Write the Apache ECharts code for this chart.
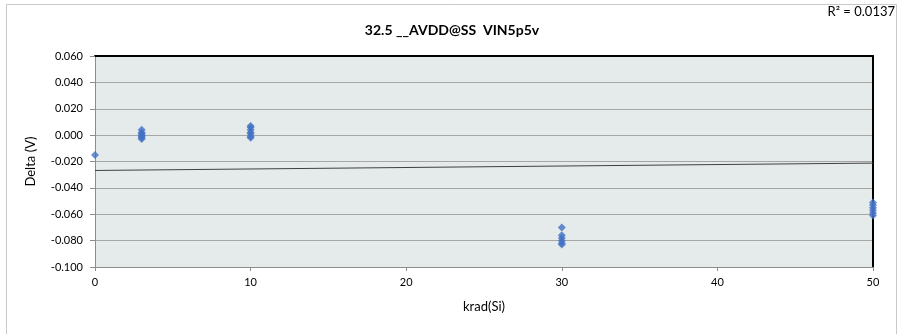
<!DOCTYPE html>
<html>
<head>
<meta charset="utf-8">
<script src="https://cdn.jsdelivr.net/npm/echarts@6/dist/echarts.min.js"></script>
<style>
html,body{margin:0;padding:0;background:#fff;}
#c{width:899px;height:334px;}
</style>
</head>
<body>
<div id="c"></div>
<script>
var titleText = '32.5 __AVDD@SS  VIN5p5v';
var r2Text = 'R² = 0.0137';
var xName = 'krad(Si)';
var yName = 'Delta (V)';
var doseX = [0, 3, 3, 3, 3, 3, 3, 3, 10, 10, 10, 10, 10, 10, 10, 30, 30, 30, 30, 30, 30, 50, 50, 50, 50, 50, 50];
var deltaY = [-0.015, 0.004, 0.002, 0.001, 0.000, -0.001, -0.002, -0.003,
  0.007, 0.006, 0.004, 0.002, 0.001, -0.001, -0.002,
  -0.070, -0.076, -0.078, -0.080, -0.082, -0.083,
  -0.051, -0.053, -0.055, -0.057, -0.059, -0.061];
var trendX = [0, 50];
var trendY = [-0.0268, -0.0212];
var yTicks = [-0.1, 0.06, 0.02];
var xTicks = [0, 50, 10];

var pts = doseX.map(function(x, i){ return [x, deltaY[i]]; });
var trend = trendX.map(function(x, i){ return [x, trendY[i]]; });
var font = 'Lato, "Liberation Sans", sans-serif';

var chart = echarts.init(document.getElementById('c'));
chart.setOption({
  animation: false,
  backgroundColor: '#fff',
  title: {
    text: titleText, left: 447, top: 18, textAlign: 'center',
    textStyle: {fontFamily: font, fontSize: 14, fontWeight: 'bold', color: '#000'}
  },
  graphic: [
    {type: 'rect', shape: {x: 6.5, y: 4.5, width: 890, height: 340}, style: {fill: 'none', stroke: '#c8c8c8', lineWidth: 1}, z: -10},
    {type: 'text', right: 4, top: 5, style: {text: r2Text, fontFamily: font, fontSize: 13, fill: '#000'}}
  ],
  grid: {left: 95, right: 26, top: 56, bottom: 67, show: true, backgroundColor: '#E5EBEB', borderWidth: 0},
  xAxis: [{
    type: 'value', min: xTicks[0], max: xTicks[1], interval: xTicks[2],
    name: xName, nameLocation: 'middle', nameGap: 33,
    nameTextStyle: {fontFamily: font, fontSize: 13, color: '#000'},
    axisLine: {show: true, onZero: false, lineStyle: {color: '#8c8c8c', width: 1}},
    axisTick: {show: true, inside: false, length: 4, lineStyle: {color: '#8c8c8c'}},
    axisLabel: {fontFamily: font, fontSize: 11, color: '#000', margin: 10},
    splitLine: {show: false}
  }, {
    type: 'value', position: 'top', min: xTicks[0], max: xTicks[1],
    axisLine: {show: true, onZero: false, lineStyle: {color: '#000', width: 2}},
    axisTick: {show: false}, axisLabel: {show: false}, splitLine: {show: false}
  }],
  yAxis: [{
    type: 'value', min: yTicks[0], max: yTicks[1], interval: yTicks[2],
    name: yName, nameLocation: 'middle', nameGap: 58, nameRotate: 90,
    nameTextStyle: {fontFamily: font, fontSize: 13, color: '#000'},
    axisLine: {show: true, onZero: false, lineStyle: {color: '#8c8c8c', width: 1}},
    axisTick: {show: true, inside: false, length: 5, lineStyle: {color: '#8c8c8c'}},
    axisLabel: {fontFamily: font, fontSize: 11, color: '#000', margin: 12,
      formatter: function(v){ return v.toFixed(3); }},
    splitLine: {show: true, lineStyle: {color: '#a6a6a6', width: 1}}
  }, {
    type: 'value', position: 'right', min: yTicks[0], max: yTicks[1],
    axisLine: {show: true, onZero: false, lineStyle: {color: '#000', width: 2}},
    axisTick: {show: false}, axisLabel: {show: false}, splitLine: {show: false}
  }],
  series: [{
    type: 'line', data: trend, showSymbol: false, symbol: 'none',
    lineStyle: {color: '#404040', width: 1}, z: 2, silent: true
  }, {
    type: 'scatter', data: pts, symbol: 'diamond', symbolSize: 8,
    itemStyle: {color: '#4472C4'}, z: 3
  }]
});
</script>
</body>
</html>
